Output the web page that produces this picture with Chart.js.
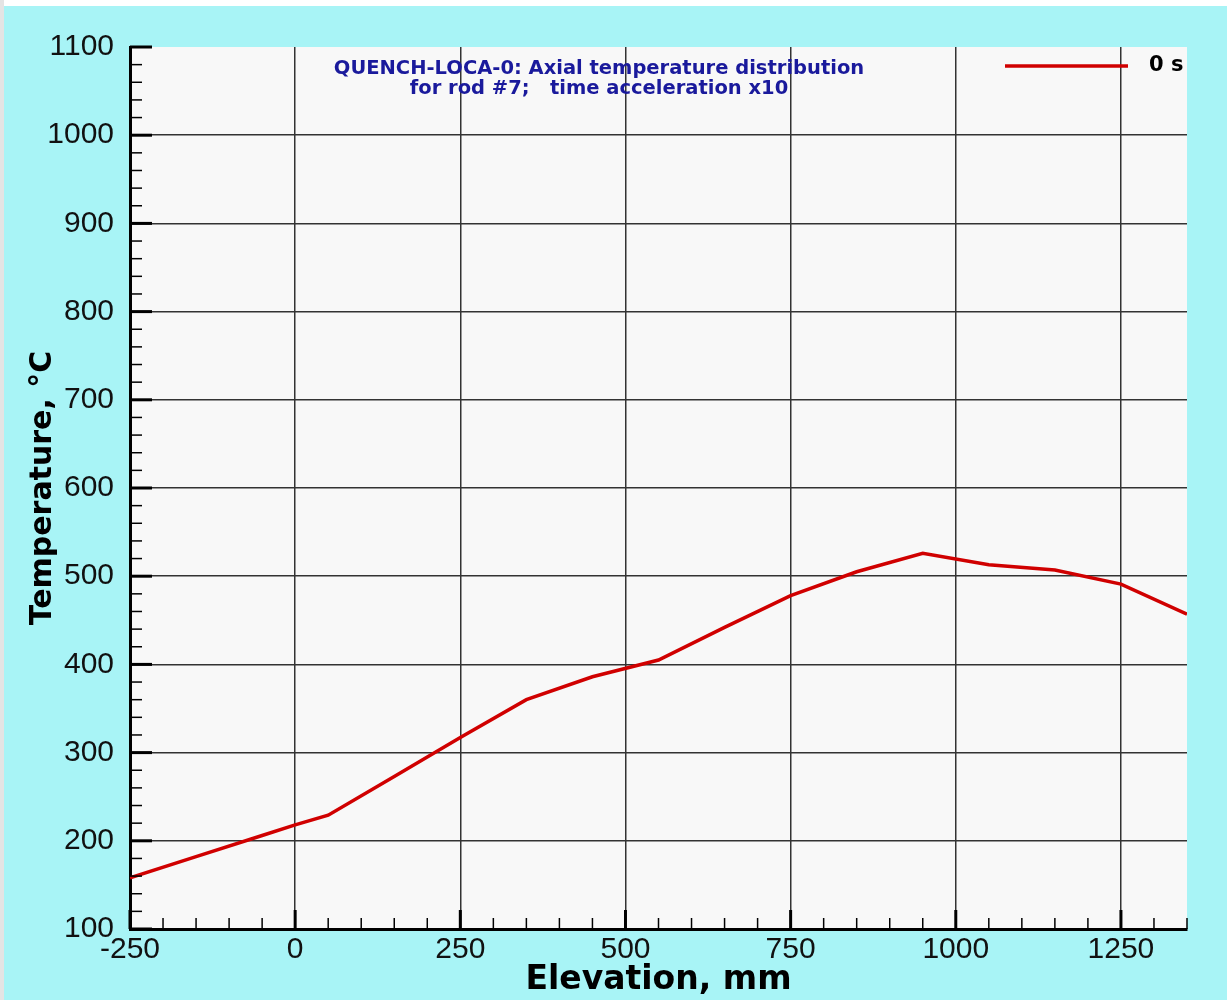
<!DOCTYPE html>
<html>
<head>
<meta charset="utf-8">
<title>QUENCH-LOCA-0 axial temperature</title>
<script src="https://cdn.jsdelivr.net/npm/chart.js@4/dist/chart.umd.min.js"></script>
<style>
  html, body { margin: 0; padding: 0; background: #fff; }
  #wrap { width: 1227px; height: 1000px; }
</style>
</head>
<body>
<div id="wrap"><canvas id="chart" width="1227" height="1000"></canvas></div>
<script>
// rod #7 temperature along the bundle at t = 0 s
const elevation = [-250, -150, -50, 0, 50, 150, 250, 350, 450, 550, 650, 750, 850, 950, 1050, 1150, 1250, 1350]
const temperature = [158, 182, 206, 218, 229, 273, 317, 360, 386, 405, 442, 478, 505, 526, 513, 507, 491, 457]

const xTicks = [-250, 0, 250, 500, 750, 1000, 1250]
const yTicks = [100, 200, 300, 400, 500, 600, 700, 800, 900, 1000, 1100]

const titleLines = ['QUENCH-LOCA-0: Axial temperature distribution', 'for rod #7;   time acceleration x10']
const seriesName = '0 s'

const LINE_RED = '#d00000'

// cyan frame around a near-white plot area
const background = {
  id: 'background',
  beforeDraw(chart) {
    const ctx = chart.ctx
    const a = chart.chartArea
    ctx.save()
    ctx.fillStyle = '#a8f4f6'
    ctx.fillRect(0, 0, chart.width, chart.height)
    ctx.fillStyle = '#ffffff'
    ctx.fillRect(0, 0, chart.width, 6)
    ctx.fillStyle = '#e4e4e4'
    ctx.fillRect(0, 0, 4, chart.height)
    ctx.fillStyle = '#f8f8f8'
    ctx.fillRect(a.left, a.top, a.right - a.left, a.bottom - a.top)
    ctx.restore()
  }
}

// inward major/minor tick marks on the left and bottom axes
const innerTicks = {
  id: 'innerTicks',
  afterDraw(chart) {
    const ctx = chart.ctx
    const a = chart.chartArea
    const xs = chart.scales.x
    const ys = chart.scales.y
    ctx.save()
    ctx.strokeStyle = '#000'
    for (let v = xs.min; v <= xs.max; v += 50) {
      const major = xTicks.includes(v)
      const px = xs.getPixelForValue(v)
      ctx.lineWidth = major ? 3 : 1.5
      ctx.beginPath()
      ctx.moveTo(px, a.bottom)
      ctx.lineTo(px, a.bottom - (major ? 19 : 11))
      ctx.stroke()
    }
    for (let v = ys.min; v <= ys.max; v += 20) {
      const major = yTicks.includes(v)
      const py = ys.getPixelForValue(v)
      ctx.lineWidth = major ? 3 : 1.5
      ctx.beginPath()
      ctx.moveTo(a.left, py)
      ctx.lineTo(a.left + (major ? 22 : 12), py)
      ctx.stroke()
    }
    ctx.restore()
  }
}

// two-line blue title and the legend entry, both inside the plot area
const labels = {
  id: 'labels',
  afterDraw(chart) {
    const ctx = chart.ctx
    const a = chart.chartArea
    ctx.save()
    ctx.fillStyle = '#1a1a9c'
    ctx.font = 'bold 19.5px "DejaVu Sans"'
    ctx.textAlign = 'center'
    ctx.textBaseline = 'middle'
    titleLines.forEach((t, i) => ctx.fillText(t, 599, a.top + 22 + i * 20))

    ctx.strokeStyle = LINE_RED
    ctx.lineWidth = 3.5
    ctx.beginPath()
    ctx.moveTo(a.right - 182, a.top + 19)
    ctx.lineTo(a.right - 59, a.top + 19)
    ctx.stroke()
    ctx.fillStyle = '#000'
    ctx.font = 'bold 21px "DejaVu Sans"'
    ctx.textAlign = 'left'
    ctx.fillText(seriesName, a.right - 38, a.top + 19)
    ctx.restore()
  }
}

const gridColor = c => (c.tick && c.tick.value === 1100) ? 'rgba(0,0,0,0)' : '#333333'
const plain = v => String(v)

new Chart(document.getElementById('chart'), {
  type: 'line',
  data: {
    datasets: [{
      label: seriesName,
      data: elevation.map((x, i) => ({ x: x, y: temperature[i] })),
      borderColor: LINE_RED,
      borderWidth: 3.5,
      pointRadius: 0,
      tension: 0,
      fill: false
    }]
  },
  options: {
    responsive: false,
    animation: false,
    layout: { padding: { left: 0, top: 47, right: 40, bottom: 0 } },
    plugins: {
      legend: { display: false },
      tooltip: { enabled: false }
    },
    scales: {
      x: {
        type: 'linear',
        min: -250,
        max: 1350,
        afterBuildTicks: s => { s.ticks = xTicks.map(v => ({ value: v })) },
        afterFit: s => { s.height = 71 },
        grid: { color: gridColor, lineWidth: 1.5, drawTicks: false },
        border: { display: true, color: '#000', width: 3 },
        ticks: {
          color: '#111',
          font: { family: 'Liberation Sans', size: 30 },
          padding: 3,
          maxRotation: 0,
          callback: plain
        },
        title: {
          display: true,
          text: 'Elevation, mm',
          color: '#000',
          font: { family: 'DejaVu Sans', weight: 'bold', size: 33 },
          padding: { top: 0, bottom: 0 }
        }
      },
      y: {
        min: 100,
        max: 1100,
        afterBuildTicks: s => { s.ticks = yTicks.map(v => ({ value: v })) },
        afterFit: s => { s.width = 130 },
        grid: { color: gridColor, lineWidth: 1.5, drawTicks: false },
        border: { display: true, color: '#000', width: 3 },
        ticks: {
          color: '#111',
          font: { family: 'Liberation Sans', size: 30 },
          padding: 16,
          callback: plain
        },
        title: {
          display: true,
          text: 'Temperature, °C',
          color: '#000',
          font: { family: 'DejaVu Sans', weight: 'bold', size: 30 },
          padding: { top: 25, bottom: 0 }
        }
      }
    }
  },
  plugins: [background, innerTicks, labels]
})
</script>
</body>
</html>
